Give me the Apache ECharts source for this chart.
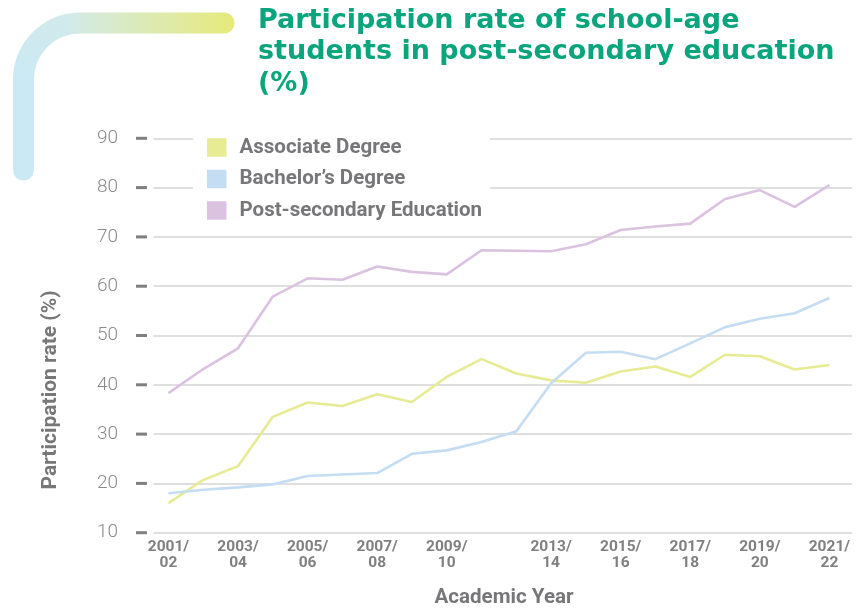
<!DOCTYPE html>
<html>
<head>
<meta charset="utf-8">
<script src="https://cdn.jsdelivr.net/npm/echarts@6/dist/echarts.min.js"></script>
<style>
html,body{margin:0;padding:0;background:#fff;}
#chart{width:863px;height:610px;}
</style>
</head>
<body>
<div id="chart"></div>
<script>
// Academic years (2011/12 not in the series)
const categories = ['2001/02','2002/03','2003/04','2004/05','2005/06','2006/07','2007/08','2008/09','2009/10','2010/11',
  '2012/13','2013/14','2014/15','2015/16','2016/17','2017/18','2018/19','2019/20','2020/21','2021/22'];
// Which category labels are printed on the axis
const shownLabels = ['2001/02','2003/04','2005/06','2007/08','2009/10','2013/14','2015/16','2017/18','2019/20','2021/22'];
const associateDegree = [16.0,20.7,23.5,33.5,36.4,35.7,38.1,36.5,41.6,45.2,42.3,40.9,40.4,42.7,43.7,41.6,46.1,45.8,43.1,44.0];
const bachelorDegree = [18.0,18.7,19.2,19.8,21.5,21.8,22.1,26.0,26.7,28.4,30.6,40.3,46.5,46.7,45.2,48.4,51.7,53.4,54.5,57.6];
const postSecondary = [38.3,43.2,47.4,57.9,61.6,61.3,64.0,62.9,62.4,67.3,67.2,67.1,68.5,71.4,72.1,72.7,77.7,79.5,76.1,80.5];
const yTicks = [10,20,30,40,50,60,70,80,90];

const seriesNames = ['Associate Degree','Bachelor\u2019s Degree','Post-secondary Education'];
const seriesColors = ['#e6eb94','#c4ddf3','#dac2e0'];
const seriesData = [associateDegree, bachelorDegree, postSecondary];

const chart = echarts.init(document.getElementById('chart'), null, {renderer:'canvas'});
const boldFont = 'Roboto, "Liberation Sans", sans-serif';
const titleFont = '"DejaVu Sans", sans-serif';

const grad = (x, y, x2, y2, stops) => ({type:'linear', x:x, y:y, x2:x2, y2:y2, colorStops: stops});

const option = {
  backgroundColor: '#ffffff',
  animation: false,
  title: {
    text: 'Participation rate of school-age\nstudents in post-secondary education\n(%)',
    left: 258, top: 5, padding: 0,
    textStyle: {color:'#0aa57c', fontSize:27, fontWeight:'bold', lineHeight:31.5, fontFamily: titleFont}
  },
  legend: {
    orient: 'vertical',
    left: 193, top: 127,
    backgroundColor: '#ffffff',
    padding: [10, 8, 8, 14],
    itemWidth: 19.5, itemHeight: 18.5, itemGap: 10.5,
    icon: 'rect',
    textStyle: {color:'#77777a', fontSize:20.5, fontWeight:'bold', fontFamily: boldFont, padding:[0,0,0,8]},
    data: seriesNames
  },
  grid: {left: 153.5, right: 11, top: 138.3, bottom: 77.3, containLabel: false},
  xAxis: {
    type: 'value',
    min: -0.43, max: 19.65,
    axisLine: {show:false},
    axisTick: {show:false},
    splitLine: {show:false},
    axisLabel: {
      customValues: shownLabels.map(l => categories.indexOf(l)),
      formatter: v => { const c = categories[Math.round(v)] || ''; return c.replace('/', '/\n'); },
      color:'#808080', fontSize:15.5, fontWeight:'bold', fontFamily: boldFont, lineHeight:16, margin:6
    }
  },
  yAxis: {
    type: 'value',
    min: yTicks[0], max: yTicks[yTicks.length-1], interval: 10,
    axisLine: {show:false},
    axisTick: {show:false},
    axisLabel: {
      margin: 6.5,
      formatter: v => '{n|' + v + '}{s| }{t| }',
      rich: {
        n: {color:'#8a8a8a', fontSize:19, fontWeight:300, fontFamily:'Roboto, sans-serif'},
        s: {width:18, fontSize:10},
        t: {width:11, height:3, backgroundColor:'#7f7f7f', fontSize:3, lineHeight:3}
      }
    },
    splitLine: {show:true, lineStyle:{color:'#d4d4d4', width:1.5}}
  },
  graphic: [
    {
      type: 'line', z: 10,
      shape: {x1: 23.5, y1: 170, x2: 23.5, y2: 80},
      style: {stroke:'#cae9f5', lineWidth:21, lineCap:'round'}
    },
    {
      type: 'arc', z: 10,
      shape: {cx: 80.5, cy: 80, r: 57, startAngle: Math.PI, endAngle: Math.PI*1.5, clockwise: true},
      style: {fill: null, lineWidth: 21, lineCap: 'butt',
        stroke: grad(0, 1, 1, 0, [{offset:0, color:'#cae9f5'}, {offset:1, color:'#d3eae8'}])}
    },
    {
      type: 'line', z: 10,
      shape: {x1: 80, y1: 23, x2: 224, y2: 23},
      style: {lineWidth:21, lineCap:'round',
        stroke: grad(0, 0, 1, 0, [{offset:0, color:'#d3eae8'}, {offset:1, color:'#e6ea7a'}])}
    },
    {
      type: 'text', x: 504, y: 598,
      style: {text:'Academic Year', fill:'#77777a', font:'bold 20.6px ' + boldFont, textAlign:'center', textVerticalAlign:'middle'}
    },
    {
      type: 'text', x: 51, y: 390, rotation: Math.PI/2,
      style: {text:'Participation rate (%)', fill:'#77777a', font:'bold 21px ' + boldFont, textAlign:'center', textVerticalAlign:'middle'}
    }
  ],
  series: seriesNames.map((name, k) => ({
    name: name,
    type: 'line',
    color: seriesColors[k],
    showSymbol: false,
    symbol: 'none',
    lineStyle: {width: 2.6, color: seriesColors[k]},
    itemStyle: {color: seriesColors[k]},
    data: seriesData[k].map((v, i) => [i, v])
  }))
};
chart.setOption(option);
</script>
</body>
</html>
